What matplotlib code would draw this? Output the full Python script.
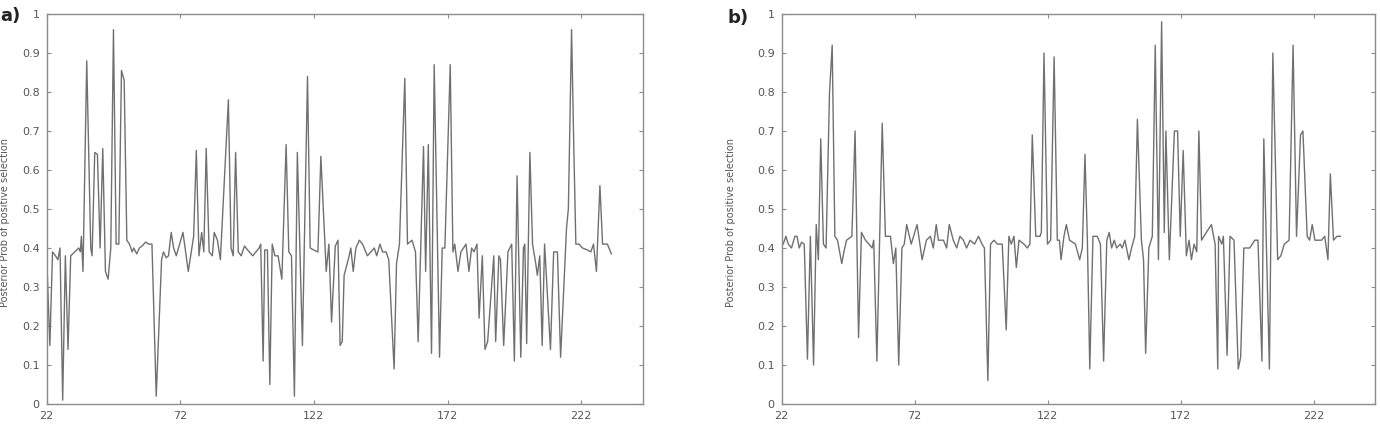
import matplotlib.pyplot as plt

# Panel a: site positions and posterior probabilities (vertices)
pos_a = [22, 23.2, 24.2, 25.3, 26.2, 27, 28, 29, 30, 31, 32.5, 34, 34.6, 35, 35.6,
         37, 38.5, 39, 40, 41, 42, 43, 44, 45, 46, 47, 48, 49, 50, 51, 52, 53, 54,
         54.6, 55.7, 56.7, 57.7, 59, 60.2, 61.4, 63, 65, 65.7, 66.7, 67.6, 68.6, 69.5,
         70.5, 73, 75, 77, 78, 79, 80, 80.8, 81.7, 82.8, 84, 84.7, 85.9, 87, 90, 91,
         91.8, 92.7, 93.7, 94.8, 96, 97.2, 99.1, 100.3, 101.5, 102.1, 103, 103.6,
         104.6, 105.5, 106.4, 107.4, 108.6, 110, 111.6, 112.6, 113.6, 114.7, 115.8,
         117.7, 119.6, 120.6, 121.9, 123.5, 124.6, 126.6, 127.6, 128.6, 130, 131,
         131.8, 132.6, 133.3, 135.2, 135.8, 136.7, 137.7, 139, 140.2, 142, 143.3,
         144.6, 145.5, 146.7, 147.7, 149, 150, 152, 152.9, 154, 156, 157, 158.7,
         160, 161, 163, 163.8, 164.8, 166, 167, 169, 170, 171, 173, 174, 174.7,
         175.9, 177, 178.9, 180, 181, 181.9, 183, 183.8, 185, 186, 187, 189.3, 190,
         191.2, 191.8, 193, 194.6, 196, 197, 198, 199.4, 200.4, 200.9, 201.6, 202.8,
         203.8, 205, 205.6, 206.5, 207.4, 208.3, 210.5, 211.7, 213.1, 214.3, 216.5,
         217.2, 218.4, 219.2, 220, 221.2, 222.5, 224.3, 225.6, 226.6, 227.7, 229,
         230, 231.8, 233.3]
prob_a = [0.38, 0.15, 0.39, 0.38, 0.37, 0.40, 0.01, 0.38, 0.14, 0.38, 0.39, 0.40, 0.39,
          0.43, 0.34, 0.88, 0.40, 0.38, 0.645, 0.64, 0.40, 0.655, 0.34, 0.32, 0.40,
          0.96, 0.41, 0.41, 0.855, 0.83, 0.42, 0.41, 0.39, 0.40, 0.385, 0.40, 0.405,
          0.415, 0.41, 0.41, 0.02, 0.37, 0.39, 0.375, 0.38, 0.44, 0.40, 0.38, 0.44,
          0.34, 0.43, 0.65, 0.38, 0.44, 0.39, 0.655, 0.39, 0.38, 0.44, 0.42, 0.37,
          0.78, 0.40, 0.38, 0.645, 0.39, 0.38, 0.405, 0.395, 0.38, 0.39, 0.40, 0.41,
          0.11, 0.395, 0.395, 0.05, 0.41, 0.38, 0.38, 0.32, 0.665, 0.39, 0.38, 0.02,
          0.645, 0.15, 0.84, 0.40, 0.395, 0.39, 0.635, 0.34, 0.41, 0.21, 0.405, 0.42,
          0.15, 0.16, 0.33, 0.38, 0.40, 0.34, 0.40, 0.42, 0.41, 0.38, 0.39, 0.40,
          0.38, 0.41, 0.39, 0.39, 0.37, 0.09, 0.36, 0.41, 0.835, 0.41, 0.42, 0.39,
          0.16, 0.66, 0.34, 0.665, 0.13, 0.87, 0.12, 0.40, 0.40, 0.87, 0.39, 0.41,
          0.34, 0.39, 0.41, 0.34, 0.40, 0.39, 0.41, 0.22, 0.38, 0.14, 0.16, 0.38,
          0.16, 0.38, 0.37, 0.15, 0.39, 0.41, 0.11, 0.585, 0.12, 0.40, 0.41, 0.155,
          0.645, 0.41, 0.36, 0.33, 0.38, 0.15, 0.41, 0.14, 0.39, 0.39, 0.12, 0.45,
          0.50, 0.96, 0.67, 0.41, 0.41, 0.40, 0.395, 0.39, 0.41, 0.34, 0.56, 0.41,
          0.41, 0.385]

# Panel b
pos_b = [22.6, 23.6, 24.5, 25.7, 27, 27.8, 28.6, 29.5, 30.5, 31.7, 32.8, 34, 35,
         35.8, 36.7, 37.7, 38.7, 40, 41, 42, 43, 44.6, 45.4, 46.4, 48.4, 49.6, 50.9,
         52, 53.5, 54.8, 56, 56.6, 57.8, 59.8, 61, 62.9, 64, 64.9, 66, 67.2, 68.1,
         69, 70.7, 72.9, 74.8, 76.4, 77.9, 79, 80.1, 80.9, 82.8, 84, 85, 86.5, 87.8,
         89, 90.3, 91.5, 92.8, 94.5, 96, 97.3, 98.2, 99.5, 100.5, 101.8, 103.1, 104.9,
         106.4, 107.4, 108.3, 109.3, 110.2, 111.2, 113.1, 114.3, 115.3, 116.2, 117.5,
         119.1, 119.6, 120.6, 121.9, 123.1, 124.4, 125.6, 126.4, 127, 128.1, 129,
         130.2, 132.4, 134, 135, 136, 136.9, 137.8, 139, 140.6, 141.8, 143, 144.2,
         145.1, 146, 147, 147.9, 149.2, 150, 151, 152.5, 153.5, 154.7, 155.7, 157.2,
         158, 158.8, 160, 161.3, 162.4, 163.6, 164.8, 165.8, 166.4, 167.7, 169.6,
         170.8, 171.8, 172.9, 174.1, 175.1, 176, 177, 178, 178.8, 179.8, 181.6,
         183.5, 184.9, 185.9, 186.2, 187.4, 188, 189.4, 190.5, 192, 193.6, 194.5,
         195.7, 197.9, 199.8, 201, 202.5, 203.2, 205.3, 206.6, 208.4, 209.6, 210.9,
         212.7, 214.2, 215.5, 217, 217.9, 219.5, 220.4, 221.4, 222.4, 223.6, 224.9,
         226.1, 227.3, 228.2, 229.4, 230.7, 232]
prob_b = [0.41, 0.43, 0.41, 0.40, 0.43, 0.43, 0.40, 0.415, 0.41, 0.115, 0.43, 0.10,
          0.46, 0.37, 0.68, 0.41, 0.40, 0.80, 0.92, 0.43, 0.42, 0.36, 0.39, 0.42,
          0.43, 0.70, 0.17, 0.44, 0.42, 0.41, 0.40, 0.42, 0.11, 0.72, 0.43, 0.43,
          0.36, 0.40, 0.10, 0.40, 0.41, 0.46, 0.41, 0.46, 0.37, 0.42, 0.43, 0.40,
          0.46, 0.42, 0.42, 0.40, 0.46, 0.42, 0.40, 0.43, 0.42, 0.40, 0.42, 0.41,
          0.43, 0.41, 0.40, 0.06, 0.41, 0.42, 0.41, 0.41, 0.19, 0.43, 0.41, 0.43,
          0.35, 0.42, 0.41, 0.40, 0.41, 0.69, 0.43, 0.43, 0.44, 0.90, 0.41, 0.42,
          0.89, 0.42, 0.42, 0.37, 0.43, 0.46, 0.42, 0.41, 0.37, 0.40, 0.64, 0.42,
          0.09, 0.43, 0.43, 0.41, 0.11, 0.42, 0.44, 0.40, 0.42, 0.40, 0.41, 0.40,
          0.42, 0.37, 0.40, 0.43, 0.73, 0.42, 0.37, 0.13, 0.40, 0.43, 0.92, 0.37,
          0.98, 0.44, 0.70, 0.37, 0.70, 0.70, 0.43, 0.65, 0.38, 0.42, 0.37, 0.41,
          0.39, 0.70, 0.42, 0.44, 0.46, 0.41, 0.09, 0.43, 0.41, 0.43, 0.125, 0.43,
          0.42, 0.09, 0.12, 0.40, 0.40, 0.42, 0.42, 0.11, 0.68, 0.09, 0.90, 0.37,
          0.38, 0.41, 0.42, 0.92, 0.43, 0.69, 0.70, 0.43, 0.42, 0.46, 0.42, 0.42,
          0.42, 0.43, 0.37, 0.59, 0.42, 0.43, 0.43]

xticks = [22, 72, 122, 172, 222]
yticks = [0, 0.1, 0.2, 0.3, 0.4, 0.5, 0.6, 0.7, 0.8, 0.9, 1]
ylabel = "Posterior Prob of positive selection"

line_color = "#707070"
axis_color = "#8c8c8c"
text_color = "#555555"

fig = plt.figure(figsize=(13.8, 4.32), dpi=100)
ax_a = fig.add_axes([0.0338, 0.0648, 0.4319, 0.9028])
ax_b = fig.add_axes([0.5664, 0.0648, 0.4300, 0.9028])

for ax, pos, prob in [(ax_a, pos_a, prob_a), (ax_b, pos_b, prob_b)]:
    ax.plot(pos, prob, color=line_color, linewidth=1.0)
    ax.set_xlim(22, 245)
    ax.set_ylim(0, 1)
    ax.set_xticks(xticks)
    ax.set_yticks(yticks)
    ax.set_yticklabels([f"{t:g}" for t in yticks])
    ax.tick_params(direction="in", top=True, right=True, length=3,
                   color=axis_color, labelsize=8, labelcolor=text_color, pad=5)
    for s in ax.spines.values():
        s.set_color(axis_color)
        s.set_linewidth(1.0)

fig.text(0.0035, 0.484, ylabel, rotation=90, ha="center", va="center",
         fontsize=7, color=text_color)
fig.text(0.530, 0.484, ylabel, rotation=90, ha="center", va="center",
         fontsize=7, color=text_color)

fig.text(0.0005, 0.962, "a)", fontsize=13, fontweight="bold", color="#222222",
         ha="left", va="center")
fig.text(0.5275, 0.958, "b)", fontsize=13, fontweight="bold", color="#222222",
         ha="left", va="center")

fig.savefig("out.png", dpi=100)
